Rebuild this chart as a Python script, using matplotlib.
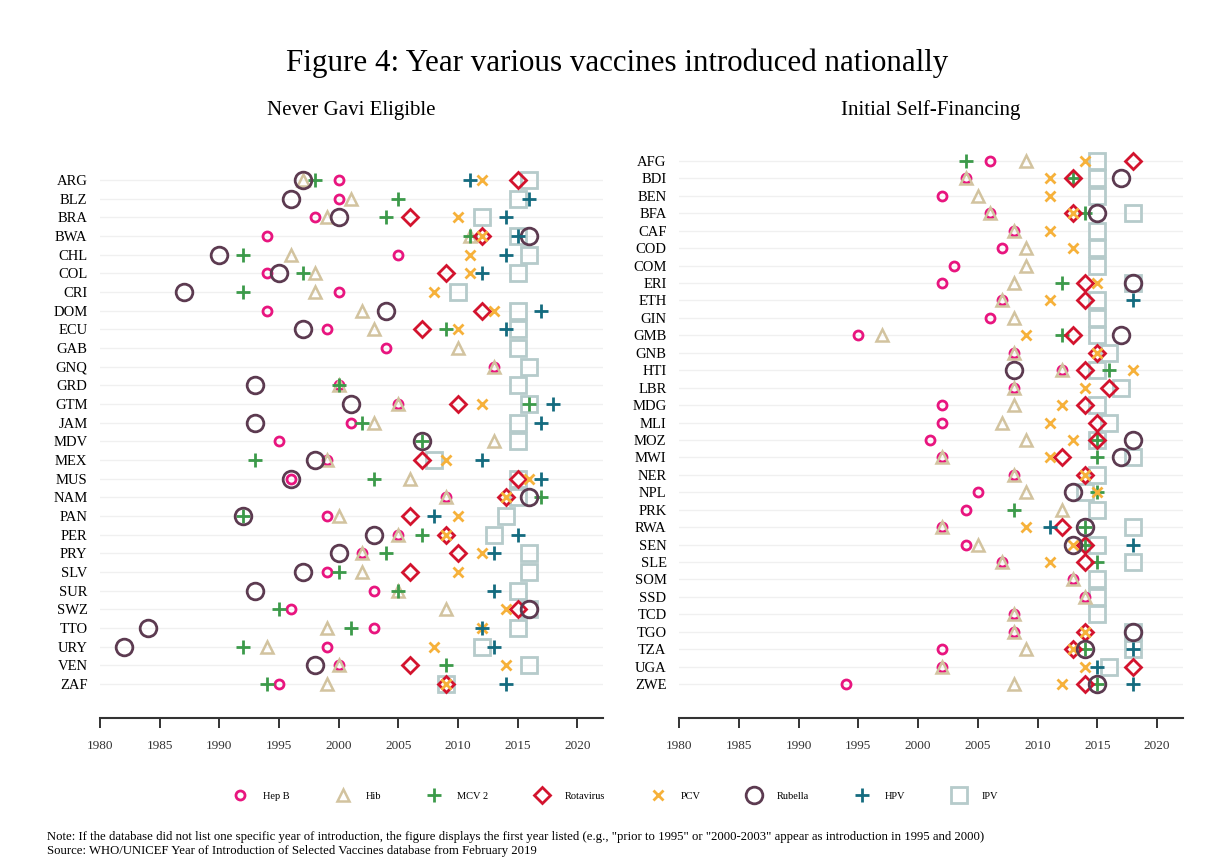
import numpy as np
import matplotlib
matplotlib.use("Agg")
import matplotlib.pyplot as plt
from matplotlib.lines import Line2D

plt.rcParams['font.family'] = ['Liberation Serif', 'DejaVu Serif']

N = None

# ---------------- Left panel: Never Gavi Eligible ----------------
left_countries = ["ARG", "BLZ", "BRA", "BWA", "CHL", "COL", "CRI", "DOM", "ECU", "GAB",
                  "GNQ", "GRD", "GTM", "JAM", "MDV", "MEX", "MUS", "NAM", "PAN", "PER",
                  "PRY", "SLV", "SUR", "SWZ", "TTO", "URY", "VEN", "ZAF"]
left_hepb = [2000, 2000, 1998, 1994, 2005, 1994, 2000, 1994, 1999, 2004,
             2013, 2000, 2005, 2001, 1995, 1999, 1996, 2009, 1999, 2005,
             2002, 1999, 2003, 1996, 2003, 1999, 2000, 1995]
left_hib = [1997, 2001, 1999, 2011, 1996, 1998, 1998, 2002, 2003, 2010,
            2013, 2000, 2005, 2003, 2013, 1999, 2006, 2009, 2000, 2005,
            2002, 2002, 2005, 2009, 1999, 1994, 2000, 1999]
left_mcv2 = [1998, 2005, 2004, 2011, 1992, 1997, 1992, N, 2009, N,
             N, 2000, 2016, 2002, 2007, 1993, 2003, 2017, 1992, 2007,
             2004, 2000, 2005, 1995, 2001, 1992, 2009, 1994]
left_rota = [2015, N, 2006, 2012, N, 2009, N, 2012, 2007, N,
             N, N, 2010, N, N, 2007, 2015, 2014, 2006, 2009,
             2010, 2006, N, 2015, N, N, 2006, 2009]
left_pcv = [2012, N, 2010, 2012, 2011, 2011, 2008, 2013, 2010, N,
            N, N, 2012, N, N, 2009, 2016, 2014, 2010, 2009,
            2012, 2010, N, 2014, 2012, 2008, 2014, 2009]
left_rubella = [1997, 1996, 2000, 2016, 1990, 1995, 1987, 2004, 1997, N,
                N, 1993, 2001, 1993, 2007, 1998, 1996, 2016, 1992, 2003,
                2000, 1997, 1993, 2016, 1984, 1982, 1998, N]
left_hpv = [2011, 2016, 2014, 2015, 2014, 2012, N, 2017, 2014, N,
            N, N, 2018, 2017, N, 2012, 2017, N, 2008, 2015,
            2013, N, 2013, N, 2012, 2013, N, 2014]
left_ipv = [2016, 2015, 2012, 2015, 2016, 2015, 2010, 2015, 2015, 2015,
            2016, 2015, 2016, 2015, 2015, 2008, 2015, 2015, 2014, 2013,
            2016, 2016, 2015, 2016, 2015, 2012, 2016, 2009]

# ---------------- Right panel: Initial Self-Financing ----------------
right_countries = ["AFG", "BDI", "BEN", "BFA", "CAF", "COD", "COM", "ERI", "ETH", "GIN",
                   "GMB", "GNB", "HTI", "LBR", "MDG", "MLI", "MOZ", "MWI", "NER", "NPL",
                   "PRK", "RWA", "SEN", "SLE", "SOM", "SSD", "TCD", "TGO", "TZA", "UGA", "ZWE"]
right_hepb = [2006, 2004, 2002, 2006, 2008, 2007, 2003, 2002, 2007, 2006,
              1995, 2008, 2012, 2008, 2002, 2002, 2001, 2002, 2008, 2005,
              2004, 2002, 2004, 2007, 2013, 2014, 2008, 2008, 2002, 2002, 1994]
right_hib = [2009, 2004, 2005, 2006, 2008, 2009, 2009, 2008, 2007, 2008,
             1997, 2008, 2012, 2008, 2008, 2007, 2009, 2002, 2008, 2009,
             2012, 2002, 2005, 2007, 2013, 2014, 2008, 2008, 2009, 2002, 2008]
right_mcv2 = [2004, 2013, N, 2014, N, N, N, 2012, N, N,
              2012, N, 2016, N, N, N, 2015, 2015, N, 2015,
              2008, 2014, 2014, 2015, N, N, N, N, 2014, N, 2015]
right_rota = [2018, 2013, N, 2013, N, N, N, 2014, 2014, N,
              2013, 2015, 2014, 2016, 2014, 2015, 2015, 2012, 2014, N,
              N, 2012, 2014, 2014, N, N, N, 2014, 2013, 2018, 2014]
right_pcv = [2014, 2011, 2011, 2013, 2011, 2013, N, 2015, 2011, N,
             2009, 2015, 2018, 2014, 2012, 2011, 2013, 2011, 2014, 2015,
             N, 2009, 2013, 2011, N, N, N, 2014, 2013, 2014, 2012]
right_rubella = [N, 2017, N, 2015, N, N, N, 2018, N, N,
                 2017, N, 2008, N, N, N, 2018, 2017, N, 2013,
                 N, 2014, 2013, N, N, N, N, 2018, 2014, N, 2015]
right_hpv = [N, N, N, N, N, N, N, N, 2018, N,
             N, N, N, N, N, N, N, N, N, N,
             N, 2011, 2018, N, N, N, N, N, 2018, 2015, 2018]
right_ipv = [2015, 2015, 2015, 2018, 2015, 2015, 2015, 2018, 2015, 2015,
             2015, 2016, 2015, 2017, 2015, 2016, 2015, 2018, 2015, 2014,
             2015, 2018, 2015, 2018, 2015, 2015, 2015, 2018, 2018, 2016, N]

year_ticks = [1980, 1985, 1990, 1995, 2000, 2005, 2010, 2015, 2020]

vaccine_names = ["Hep B", "Hib", "MCV 2", "Rotavirus", "PCV", "Rubella", "HPV", "IPV"]

# styles: marker, size, edge width, color
styles = {
    "IPV":       dict(marker='s', ms=11.5, mew=2.0, color='#b6cbcb'),
    "Hep B":     dict(marker='o', ms=6.5, mew=2.0, color='#e8157f'),
    "Hib":       dict(marker='^', ms=9, mew=1.8, color='#d2c39f'),
    "MCV 2":     dict(marker='+', ms=10, mew=2.0, color='#3c9a4a'),
    "Rotavirus": dict(marker='D', ms=8, mew=2.0, color='#d3132e'),
    "PCV":       dict(marker='x', ms=7, mew=2.0, color='#f6b13a'),
    "Rubella":   dict(marker='o', ms=12, mew=2.0, color='#5c3a50'),
    "HPV":       dict(marker='+', ms=10, mew=2.0, color='#146b7f'),
}
draw_order = ["IPV", "Hep B", "Hib", "MCV 2", "Rotavirus", "PCV", "Rubella", "HPV"]

left_data = {"Hep B": left_hepb, "Hib": left_hib, "MCV 2": left_mcv2, "Rotavirus": left_rota,
             "PCV": left_pcv, "Rubella": left_rubella, "HPV": left_hpv, "IPV": left_ipv}
right_data = {"Hep B": right_hepb, "Hib": right_hib, "MCV 2": right_mcv2, "Rotavirus": right_rota,
              "PCV": right_pcv, "Rubella": right_rubella, "HPV": right_hpv, "IPV": right_ipv}

W, H = 1208, 858
fig = plt.figure(figsize=(W / 100, H / 100), dpi=100)


def px_box(x0, x1, top, bottom):
    return [x0 / W, 1 - bottom / H, (x1 - x0) / W, (bottom - top) / H]


ax_top_px, ax_bot_px = 142, 718


def draw_panel(ax, countries, data, first_row_px, spacing, title, x0px):
    n = len(countries)
    ypos = np.arange(n)
    for i, name in enumerate(draw_order):
        st = styles[name]
        vals = np.array([np.nan if v is None else v for v in data[name]], dtype=float)
        ax.plot(vals, ypos, linestyle='none', marker=st['marker'], ms=st['ms'],
                mew=st['mew'], mec=st['color'], mfc='none', color=st['color'],
                zorder=3 + i)
    top = -(first_row_px - ax_top_px) / spacing
    bottom = (n - 1) + (ax_bot_px - (first_row_px + (n - 1) * spacing)) / spacing
    ax.set_ylim(bottom, top)
    ax.set_xlim(1980, 1980 + 503 / 11.93)
    ax.set_yticks(ypos)
    ax.set_yticklabels(countries, fontsize=10.5)
    ax.tick_params(axis='y', length=0, pad=9)
    ax.set_xticks(year_ticks)
    ax.set_xticklabels([str(t) for t in year_ticks], fontsize=9.5, color='#333333')
    ax.tick_params(axis='x', length=7.5, width=1.4, color='#333333', pad=8, direction='out')
    for s in ['left', 'right', 'top']:
        ax.spines[s].set_visible(False)
    ax.spines['bottom'].set_color('#333333')
    ax.spines['bottom'].set_linewidth(1.5)
    ax.grid(axis='y', color='#f0f0f0', linewidth=1.0)
    ax.set_axisbelow(True)
    ax.set_facecolor('white')
    fig.text((x0px + 251.5) / W, 1 - 110 / H, title, ha='center', va='center', fontsize=15)


axL = fig.add_axes(px_box(100, 603, ax_top_px, ax_bot_px))
axR = fig.add_axes(px_box(679, 1183, ax_top_px, ax_bot_px))

draw_panel(axL, left_countries, left_data, 180, (684 - 180) / 27, "Never Gavi Eligible", 100)
draw_panel(axR, right_countries, right_data, 161, (684 - 161) / 30, "Initial Self-Financing", 679)

fig.text(617 / W, 1 - 63 / H, "Figure 4: Year various vaccines introduced nationally",
         ha='center', va='center', fontsize=22.3)

handles = []
for name in vaccine_names:
    st = styles[name]
    handles.append(Line2D([], [], linestyle='none', marker=st['marker'], ms=st['ms'],
                          mew=st['mew'], mec=st['color'], mfc='none', color=st['color']))
fig.legend(handles, vaccine_names, loc='center', bbox_to_anchor=(614 / W, 1 - 796 / H),
           ncol=8, frameon=False, fontsize=7.5, handlelength=2.0, handletextpad=1.2,
           columnspacing=4.1)

fig.text(47 / W, 1 - 837 / H,
         'Note: If the database did not list one specific year of introduction, the figure displays the first year listed '
         '(e.g., "prior to 1995" or "2000-2003" appear as introduction in 1995 and 2000)',
         ha='left', va='center', fontsize=9.2)
fig.text(47 / W, 1 - 851 / H,
         'Source: WHO/UNICEF Year of Introduction of Selected Vaccines database from February 2019',
         ha='left', va='center', fontsize=9.2)

fig.savefig("out.png", dpi=100, facecolor='white')
